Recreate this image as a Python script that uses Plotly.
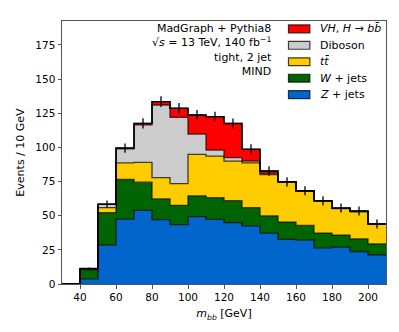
import numpy as np
import plotly.graph_objects as go

# bin edges (GeV) - first bin 30-40 is empty
bin_lo = [30, 40, 50, 60, 70, 80, 90, 100, 110, 120, 130, 140, 150, 160, 170, 180, 190, 200]
bin_width = 10

# per-process yields per bin (events / 10 GeV)
z_jets = [0, 3.5, 28.4, 47.5, 53.9, 47.1, 43.4, 49.3, 47.3, 44.9, 42.6, 37.3, 32.6, 32.1, 26.5, 27.0, 23.8, 21.3]
w_jets = [0, 7.0, 23.8, 29.0, 20.6, 15.2, 14.2, 15.2, 15.9, 16.1, 13.3, 12.5, 12.7, 10.8, 10.8, 8.8, 9.3, 8.1]
ttbar = [0, 0.2, 3.7, 12.2, 14.5, 15.6, 15.9, 30.4, 30.4, 29.0, 32.8, 30.3, 29.2, 25.0, 23.2, 19.3, 19.8, 14.2]
diboson = [0, 0.5, 2.4, 10.3, 27.4, 53.1, 48.5, 14.8, 4.4, 2.5, 1.3, 0.8, 0.0, 0.1, 0.3, 0.3, 0.3, 0.3]
vh = [0, 0.1, 0.2, 0.5, 1.2, 2.5, 6.6, 14.0, 24.5, 25.0, 8.6, 1.8, 0.3, 0.3, 0.2, 0.2, 0.2, 0.1]
# uncertainty on the total
total_err = [0, 0.8, 2.7, 3.4, 3.7, 3.9, 3.8, 3.6, 3.6, 3.7, 3.6, 3.4, 3.4, 3.3, 3.3, 3.3, 3.3, 3.3]

names = ['<i>Z</i> + jets', '<i>W</i> + jets', '<i>t</i><i>t̄</i>', 'Diboson',
         '<i>VH</i>, <i>H</i> → <i>b</i><i>b̄</i>']
colors = ['#0066cc', '#006400', '#ffcc00', '#cccccc', '#ff0000']
stack = [z_jets, w_jets, ttbar, diboson, vh]

info = ['MadGraph + Pythia8', '√<i>s</i> = 13 TeV, 140 fb<sup>−1</sup>', 'tight, 2 jet', 'MIND']

FONT = 'DejaVu Sans'
edges_x = bin_lo + [bin_lo[-1] + bin_width]

fig = go.Figure()

cum = np.zeros(len(bin_lo))
for i, (vals, name, col) in enumerate(zip(stack, names, colors)):
    cum = cum + np.array(vals)
    y = list(cum) + [cum[-1]]
    fig.add_trace(go.Scatter(
        x=edges_x, y=y, mode='lines', line_shape='hv',
        line=dict(color='rgba(0,0,0,0.72)', width=1.3),
        fill='tozeroy' if i == 0 else 'tonexty', fillcolor=col,
        name=name, showlegend=False, hoverinfo='skip'))

# total outline
fig.add_trace(go.Scatter(x=edges_x, y=list(cum) + [cum[-1]], mode='lines', line_shape='hv',
                         line=dict(color='black', width=1.4), showlegend=False,
                         hoverinfo='skip'))

# error bars on the total
centers = [b + bin_width / 2 for b in bin_lo[1:]]
fig.add_trace(go.Scatter(
    x=centers, y=list(cum[1:]), mode='markers', marker=dict(size=1, color='black'),
    error_y=dict(type='data', array=total_err[1:], color='black', thickness=1.3, width=0),
    showlegend=False))

# legend drawn by hand (matplotlib style)
leg_y0 = 0.970
leg_dy = 0.0625
for k, (name, col) in enumerate(zip(names[::-1], colors[::-1])):
    yc = leg_y0 - k * leg_dy
    fig.add_shape(type='rect', xref='paper', yref='paper',
                  x0=0.699, x1=0.765, y0=yc - 0.015, y1=yc + 0.015,
                  fillcolor=col, line=dict(color='rgba(0,0,0,0.75)', width=1.2))
    fig.add_annotation(xref='paper', yref='paper', x=0.792, y=yc, text=name,
                       showarrow=False, xanchor='left', yanchor='middle', borderpad=0,
                       font=dict(family=FONT, size=11, color='black'))

# info text block, right aligned
fig.add_annotation(xref='paper', yref='paper', x=0.651, y=0.889, text='<br>'.join(info),
                   showarrow=False, xanchor='right', yanchor='middle', align='right',
                   borderpad=0, font=dict(family=FONT, size=11, color='black'))

axis_common = dict(showline=True, linecolor='#555555', linewidth=1, mirror=True,
                   ticks='outside', ticklen=3.5, tickwidth=1, tickcolor='#555555',
                   showgrid=False, zeroline=False,
                   tickfont=dict(family=FONT, size=10.5, color='black'))

fig.update_xaxes(range=[30, 210], tickvals=list(range(40, 201, 20)),
                 title=dict(text='<i>m</i><sub><i>bb</i></sub> [GeV]', standoff=7,
                            font=dict(family=FONT, size=11, color='black')),
                 **axis_common)
fig.update_yaxes(range=[0, 192.5], tickvals=list(range(0, 176, 25)),
                 title=dict(text='Events / 10 GeV', standoff=8,
                            font=dict(family=FONT, size=11, color='black')),
                 **axis_common)

# page body adds an 8px offset, so the figure is drawn 8px smaller
fig.update_layout(width=391, height=324, margin=dict(l=47, r=12, t=13, b=48),
                  plot_bgcolor='white', paper_bgcolor='white',
                  font=dict(family=FONT, size=10.5, color='black'))

fig.write_html("out.html")
